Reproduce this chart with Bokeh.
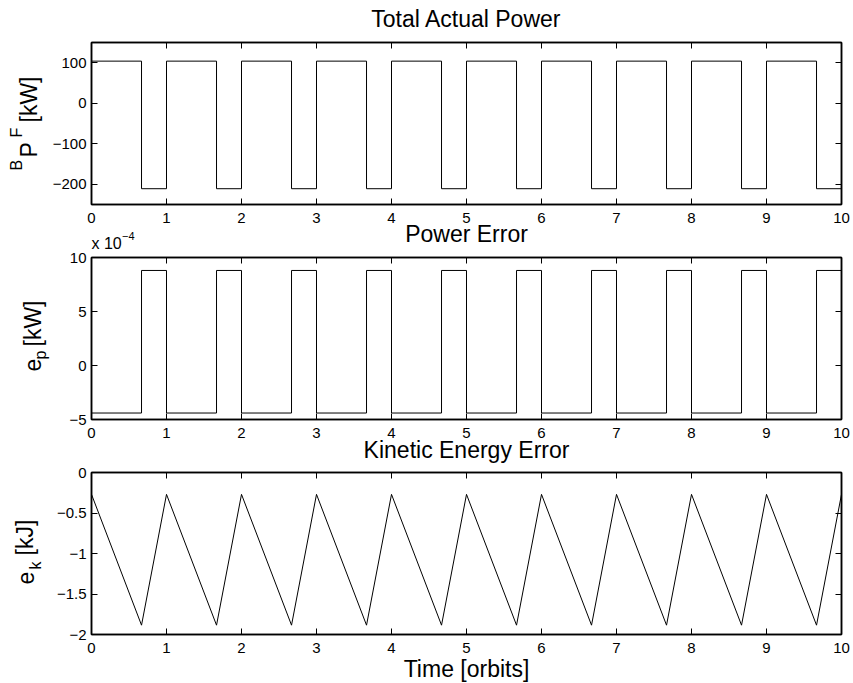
import math
from bokeh.plotting import figure
from bokeh.layouts import column
from bokeh.models import Label, LinearAxis, FixedTicker, Range1d, GridBox
from bokeh.embed import file_html
from bokeh.resources import INLINE

# ---------------- data ----------------
switch_times = [0, 0.667, 1, 1.667, 2, 2.667, 3, 3.667, 4, 4.667, 5,
                5.667, 6, 6.667, 7, 7.667, 8, 8.667, 9, 9.667, 10]
total_power_kw = [104, -211, 104, -211, 104, -211, 104, -211, 104, -211, 104,
                  -211, 104, -211, 104, -211, 104, -211, 104, -211, -211]
# power error in units of 1e-4 kW
power_error_e4 = [-4.4, 8.8, -4.4, 8.8, -4.4, 8.8, -4.4, 8.8, -4.4, 8.8, -4.4,
                  8.8, -4.4, 8.8, -4.4, 8.8, -4.4, 8.8, -4.4, 8.8, 8.8]
ke_error_kj = [-0.27, -1.885, -0.27, -1.885, -0.27, -1.885, -0.27, -1.885, -0.27, -1.885, -0.27,
               -1.885, -0.27, -1.885, -0.27, -1.885, -0.27, -1.885, -0.27, -1.885, -0.27]

x_ticks = [0, 1, 2, 3, 4, 5, 6, 7, 8, 9, 10]
x_tick_labels = ["0", "1", "2", "3", "4", "5", "6", "7", "8", "9", "10"]
y1_ticks = [-200, -100, 0, 100]
y1_tick_labels = ["\u2212200", "\u2212100", "0", "100"]
y2_ticks = [-5, 0, 5, 10]
y2_tick_labels = ["\u22125", "0", "5", "10"]
y3_ticks = [-2, -1.5, -1, -0.5, 0]
y3_tick_labels = ["\u22122", "\u22121.5", "\u22121", "\u22120.5", "0"]

titles = ["Total Actual Power", "Power Error", "Kinetic Energy Error"]
x_label = "Time [orbits]"

FONT = "Liberation Sans"
TICK_PX = 15
BIG_PX = 23
SMALL_PX = 16
W, H = 853, 683


def style_axis(ax, ticks, labels, show_labels=True):
    ax.ticker = FixedTicker(ticks=ticks)
    ax.major_tick_in = 6
    ax.major_tick_out = 0
    ax.minor_tick_in = 0
    ax.minor_tick_out = 0
    ax.major_tick_line_color = "black"
    ax.major_tick_line_width = 1
    ax.axis_line_color = "black"
    ax.axis_line_width = 1.5
    ax.major_label_text_font = FONT
    if show_labels:
        ax.major_label_overrides = {t: l for t, l in zip(ticks, labels)}
        ax.major_label_text_color = "black"
        ax.major_label_text_font_size = f"{TICK_PX}px"
    else:
        ax.major_label_text_color = None
        ax.major_label_text_font_size = "0px"
        ax.major_label_standoff = 0


def make_fig(h, top, bottom, yr, yt, ytl):
    p = figure(width=W, height=h, x_range=Range1d(0, 10), y_range=Range1d(*yr),
               output_backend="svg", toolbar_location=None,
               min_border_left=91, min_border_right=12,
               min_border_top=top, min_border_bottom=bottom)
    p.grid.visible = False
    p.outline_line_color = "black"
    p.outline_line_width = 1.5
    p.background_fill_color = "white"
    p.border_fill_color = "white"
    style_axis(p.xaxis[0], x_ticks, x_tick_labels)
    p.xaxis[0].major_label_standoff = 8
    style_axis(p.yaxis[0], yt, ytl)
    p.yaxis[0].major_label_standoff = 5
    ra = LinearAxis()
    style_axis(ra, yt, ytl, show_labels=False)
    p.add_layout(ra, "right")
    ta = LinearAxis()
    style_axis(ta, x_ticks, x_tick_labels, show_labels=False)
    p.add_layout(ta, "above")
    return p


# ---------------- plot 1 ----------------
p1 = make_fig(240, 42, 36, (-250, 150), y1_ticks, y1_tick_labels)
p1.step(switch_times, total_power_kw, mode="after", line_color="black", line_width=1)

# ---------------- plot 2 ----------------
p2 = make_fig(215, 17, 36, (-5, 10), y2_ticks, y2_tick_labels)
p2.step(switch_times, power_error_e4, mode="after", line_color="black", line_width=1)

# ---------------- plot 3 ----------------
p3 = make_fig(228, 17, 49, (-2, 0), y3_ticks, y3_tick_labels)
p3.line(switch_times, ke_error_kj, line_color="black", line_width=1)

main = column(p1, p2, p3, spacing=0)

# ---------------- text overlay (page pixel coordinates) ----------------
ov = figure(width=W, height=H, x_range=Range1d(0, W), y_range=Range1d(H, 0),
            x_axis_type=None, y_axis_type=None, min_border=0,
            output_backend="svg", toolbar_location=None)
ov.grid.visible = False
ov.outline_line_color = None
ov.background_fill_color = None
ov.border_fill_color = None

VERT = math.pi / 2
K = 0.35  # baseline correction (fraction of font size)


def lab(text, x, y, size, align="left", vertical=False):
    if vertical:
        x = x - K * size
        ang = VERT
    else:
        y = y - K * size
        ang = 0.0
    ov.add_layout(Label(x=x, y=y, text=text, text_font=FONT, text_font_size=f"{size}px",
                        text_color="black", text_align=align,
                        text_baseline="alphabetic", angle=ang))


lab(titles[0], 466, 26.7, BIG_PX, align="center")
lab(titles[1], 466, 241.7, BIG_PX, align="center")
lab(titles[2], 466, 457.3, BIG_PX, align="center")
lab(x_label, 466, 676.5, BIG_PX, align="center")
lab("x 10", 91, 249, 16)
lab("\u22124", 121.5, 239, 11)

# y label 1:  ^B P ^F [kW]
lab("B", 22, 170, SMALL_PX, vertical=True)
lab("P", 36.5, 157, BIG_PX, vertical=True)
lab("F", 22, 137, SMALL_PX, vertical=True)
lab("[kW]", 36.5, 122, BIG_PX, vertical=True)
# y label 2:  e_p [kW]
lab("e", 40.5, 371, BIG_PX, vertical=True)
lab("p", 46, 359, SMALL_PX, vertical=True)
lab("[kW]", 40.5, 346, BIG_PX, vertical=True)
# y label 3:  e_k [kJ]
lab("e", 33, 584, BIG_PX, vertical=True)
lab("k", 41, 569, SMALL_PX, vertical=True)
lab("[kJ]", 33, 555, BIG_PX, vertical=True)

page = GridBox(children=[(main, 0, 0), (ov, 0, 0)])
open("out.html", "w").write(file_html(page, INLINE))
